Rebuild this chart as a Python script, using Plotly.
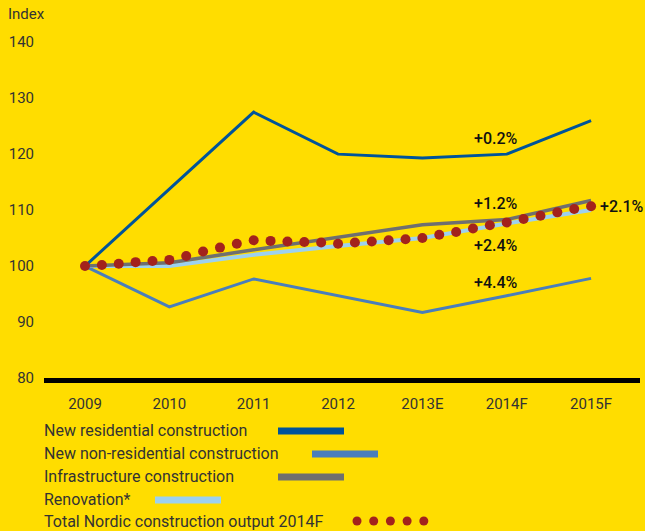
import plotly.graph_objects as go

years = ["2009", "2010", "2011", "2012", "2013E", "2014F", "2015F"]
residential = [100, 113.7, 127.5, 120.0, 119.3, 120.0, 126.0]
non_residential = [100, 92.7, 97.7, 94.7, 91.7, 94.7, 97.8]
infrastructure = [100, 100.6, 102.9, 105.1, 107.4, 108.3, 111.7]
renovation = [100, 100.0, 102.0, 103.6, 105.0, 107.6, 110.0]
total_step = 0.2
total_output = [100.0, 100.2, 100.4, 100.7, 100.9, 101.1, 101.8, 102.6, 103.3, 104.0,
                104.6, 104.5, 104.4, 104.3, 104.2, 104.0, 104.2, 104.4, 104.6, 104.8,
                105.0, 105.6, 106.1, 106.7, 107.3, 107.8, 108.4, 109.0, 109.6, 110.2,
                110.7]
growth_labels = ["+0.2%", "+1.2%", "+2.4%", "+4.4%", "+2.1%"]
growth_pos = [(4.87, 122.8), (4.87, 111.2), (4.87, 103.7), (4.87, 97.0), (6.37, 110.6)]
legend_names = ["New residential construction", "New non-residential construction",
                "Infrastructure construction", "Renovation*",
                "Total Nordic construction output 2014F"]

BG = "#FFDD00"
C_RES = "#00549A"
C_NON = "#4A7EBB"
C_INF = "#6F6F6F"
C_REN = "#9DD1EF"
C_TOT = "#A3221C"
TXT = "#333333"
FONT = "Roboto"

W, H = 645, 531
L, R, T, B = 44, 5, 31, 153
PW, PH = W - L - R, H - T - B

def px(x, y):
    return (x - L) / PW, (H - B - y) / PH

xi = list(range(len(years)))
tx = [round(i * total_step, 1) for i in range(len(total_output))]

fig = go.Figure()
fig.add_trace(go.Scatter(x=xi, y=residential, mode="lines", line=dict(color=C_RES, width=3)))
fig.add_trace(go.Scatter(x=xi, y=non_residential, mode="lines", line=dict(color=C_NON, width=3)))
fig.add_trace(go.Scatter(x=xi, y=renovation, mode="lines", line=dict(color=C_REN, width=4)))
fig.add_trace(go.Scatter(x=xi, y=infrastructure, mode="lines", line=dict(color=C_INF, width=3.5)))
fig.add_trace(go.Scatter(x=tx, y=total_output, mode="markers",
                         marker=dict(color=C_TOT, size=10, line=dict(width=0))))

for lab, (ax, ay) in zip(growth_labels, growth_pos):
    fig.add_annotation(x=ax, y=ay, text=lab, showarrow=False, xref="x", yref="y",
                       font=dict(family=FONT, size=16, color="#111111", weight=500))

fig.add_annotation(x=px(6, 14)[0], y=px(6, 14)[1], xref="paper", yref="paper",
                   text="Index", showarrow=False, xanchor="left", yanchor="middle",
                   font=dict(family=FONT, size=15, color=TXT))

leg_y = [430, 453, 476, 499, 521]
leg_lines = [(278, 344, C_RES), (312, 378, C_NON), (278, 344, C_INF), (155, 221, C_REN)]
shapes = []
for i, name in enumerate(legend_names):
    x0, y0 = px(42, leg_y[i])
    fig.add_annotation(x=x0, y=y0, xref="paper", yref="paper", text=name, showarrow=False,
                       xanchor="left", yanchor="middle",
                       font=dict(family=FONT, size=16, color=TXT))
for i, (a, b, c) in enumerate(leg_lines):
    p0 = px(a, leg_y[i] + 1)
    p1 = px(b, leg_y[i] + 1)
    shapes.append(dict(type="line", xref="paper", yref="paper", x0=p0[0], y0=p0[1],
                       x1=p1[0], y1=p1[1], line=dict(color=c, width=7)))
for k in range(5):
    cx = 357 + k * 16.7
    cy = 521
    a = px(cx - 4.5, cy - 4.5)
    b = px(cx + 4.5, cy + 4.5)
    shapes.append(dict(type="circle", xref="paper", yref="paper", x0=a[0], y0=b[1],
                       x1=b[0], y1=a[1], fillcolor=C_TOT, line=dict(width=0)))

fig.update_layout(
    width=W, height=H, margin=dict(l=L, r=R, t=T, b=B),
    paper_bgcolor=BG, plot_bgcolor=BG, showlegend=False, shapes=shapes,
    font=dict(family=FONT, color=TXT),
)
fig.update_xaxes(range=[-0.486, 6.58], tickvals=xi, ticktext=years, showgrid=False,
                 zeroline=False, showline=True, linecolor="black", linewidth=5,
                 ticks="outside", ticklen=8, tickcolor=BG,
                 tickfont=dict(family=FONT, size=15, color=TXT))
fig.update_yaxes(range=[80, 142], tickvals=[80, 90, 100, 110, 120, 130, 140],
                 showgrid=False, zeroline=False, showline=False,
                 ticks="outside", ticklen=6, tickcolor=BG,
                 tickfont=dict(family=FONT, size=15, color=TXT))

fig.write_html("out.html")
